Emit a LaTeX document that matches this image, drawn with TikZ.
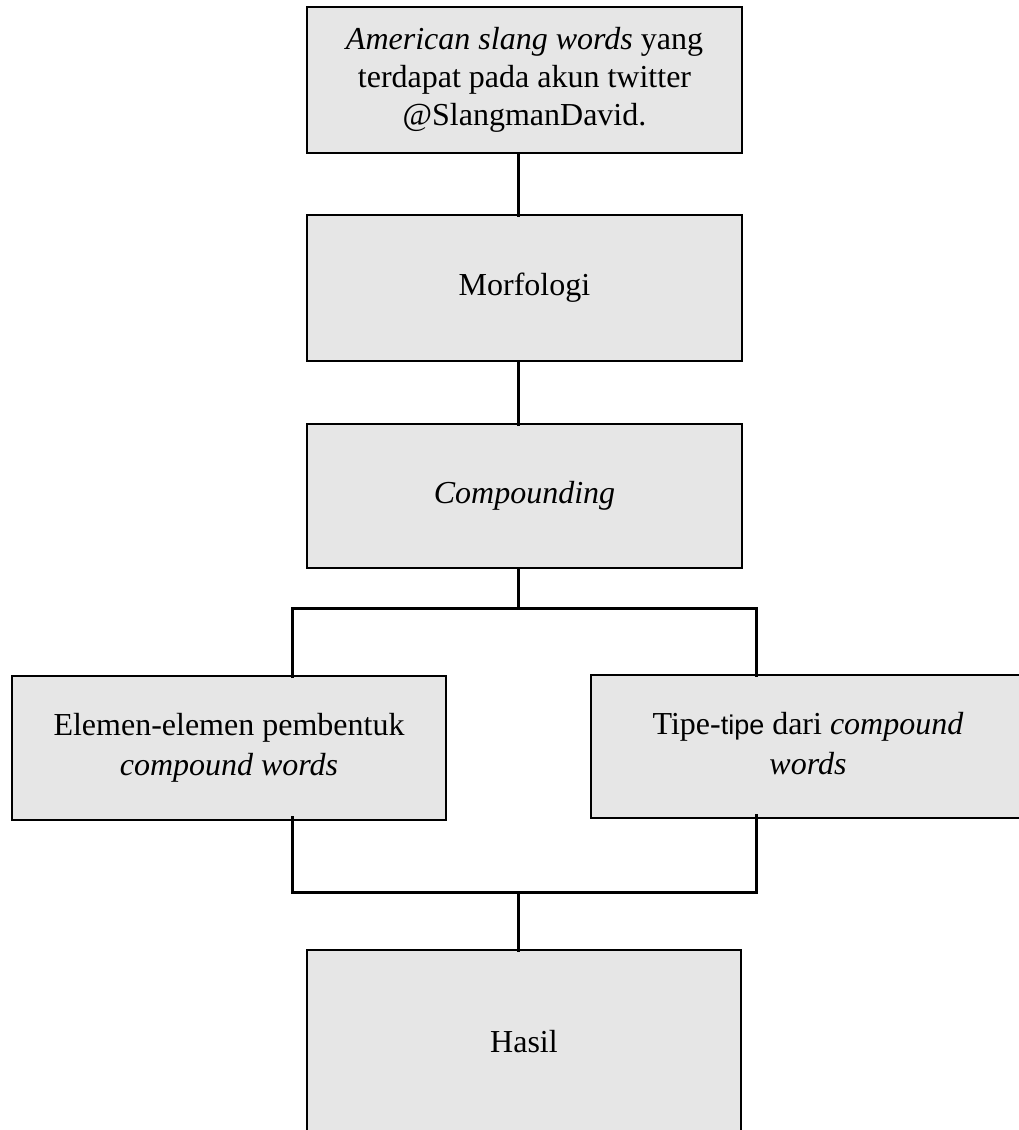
\documentclass[tikz,border=0pt]{standalone}
\usepackage{fontspec}
\setmainfont{Liberation Serif}[ItalicFont={Liberation Serif Italic}, BoldFont={Liberation Serif Bold}]
\newfontfamily\sansalt{Liberation Sans}
\definecolor{boxgray}{RGB}{230,230,230}
\begin{document}
\begin{tikzpicture}[x=1pt,y=-1pt,
  box/.style={draw=black, fill=boxgray, line width=2.5pt, inner sep=0pt, outer sep=0pt,
    align=center, font=\fontsize{32}{38}\selectfont},
  conn/.style={draw=black, line width=3pt, line cap=rect}]
\useasboundingbox (0,0) rectangle (1019,1130);
\clip (0,0) rectangle (1019,1130);
\fill[white] (0,0) rectangle (1019,1130);

\node[box, minimum width=435pt, minimum height=146pt] (b1) at (524.5,80)
  {\textit{American slang words} yang\\terdapat pada akun twitter\\@SlangmanDavid.};
\node[box, minimum width=435pt, minimum height=146pt] (b2) at (524.5,288) {Morfologi};
\node[box, minimum width=435pt, minimum height=144pt] (b3) at (524.5,496) {\textit{Compounding}};
\node[box, minimum width=434pt, minimum height=144pt] (b4) at (229,748)
  {\raisebox{12pt}{\begin{tabular}{@{}c@{}}Elemen-elemen pembentuk\\[2pt]\textit{compound words}\end{tabular}}};
\node[box, minimum width=434pt, minimum height=143pt] (b5) at (808,746.5)
  {\raisebox{12pt}{\begin{tabular}{@{}c@{}}Tipe-{\sansalt\fontsize{27}{38}\selectfont tipe} dari \textit{compound}\\[2pt]\textit{words}\end{tabular}}};
\node[box, minimum width=434pt, minimum height=190pt] (b6) at (524,1045) {\raisebox{8pt}{Hasil}};

\coordinate (cx) at (518,0);
\coordinate (L) at (292,0);
\coordinate (R) at (756,0);
\coordinate (jt) at (518,608);
\coordinate (jb) at (518,892);

\draw[conn] (b1.south -| cx) -- (b2.north -| cx);
\draw[conn] (b2.south -| cx) -- (b3.north -| cx);
\draw[conn] (b3.south -| cx) -- (jt);
\draw[conn] (b4.north -| L) -- (L |- jt) -- (R |- jt) -- (b5.north -| R);
\draw[conn] ([yshift=3pt]b4.south -| L) -- (L |- jb) -- (R |- jb) -- ([yshift=3pt]b5.south -| R);
\draw[conn] (jb) -- (b6.north -| cx);
\end{tikzpicture}
\end{document}
